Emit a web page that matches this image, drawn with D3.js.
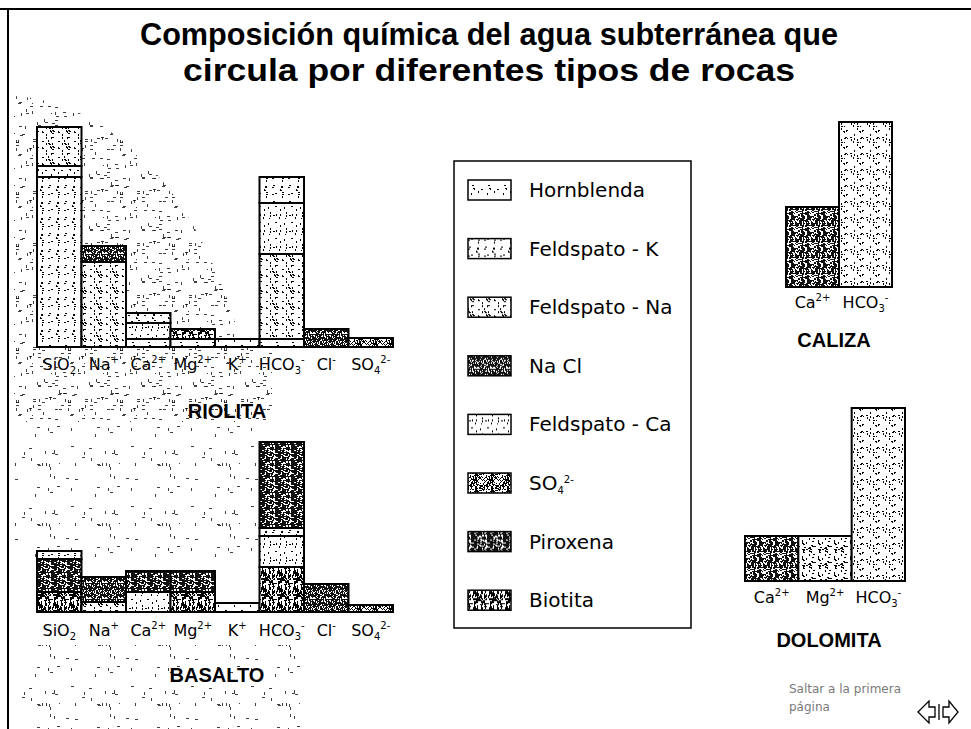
<!DOCTYPE html>
<html>
<head>
<meta charset="utf-8">
<title>Composición química del agua subterránea</title>
<script src="https://cdn.jsdelivr.net/npm/d3@7"></script>
<style>
  body { margin: 0; background: #fff; }
  .title { font: bold 31px "Liberation Sans Narrow", "Liberation Sans", Arial, sans-serif; text-anchor: middle; fill: #000; }
  .ion { font: 16px "DejaVu Sans", Verdana, sans-serif; fill: #000; }
  .rock { font: bold 20px "Liberation Sans", Arial, sans-serif; text-anchor: middle; fill: #000; }
  .legend text { font: 20px "DejaVu Sans", Verdana, sans-serif; fill: #000; }
  .foot { font: 12px "DejaVu Sans", sans-serif; fill: #7a7a7a; }
</style>
</head>
<body>
<svg id="chart" width="971" height="729"></svg>
<script>
//1. Data (values in relative units, stacked bottom to top)
var ions = ["SiO2", "Na+", "Ca2+", "Mg2+", "K+", "HCO3-", "Cl-", "SO42-"];
var ionText = {
  "SiO2": ["SiO", "2", ""], "Na+": ["Na", "", "+"], "Ca2+": ["Ca", "", "2+"],
  "Mg2+": ["Mg", "", "2+"], "K+": ["K", "", "+"], "HCO3-": ["HCO", "3", "-"],
  "Cl-": ["Cl", "", "-"], "SO42-": ["SO", "4", "2-"]
};
var minerals = ["Hornblenda", "Feldspato - K", "Feldspato - Na", "Na Cl",
                "Feldspato - Ca", "SO4", "Piroxena", "Biotita"];

var riolita = [
  ["SiO2", "Feldspato - K", 85], ["SiO2", "Hornblenda", 5.5], ["SiO2", "Feldspato - Na", 19.5],
  ["Na+", "Feldspato - Na", 42.5], ["Na+", "Na Cl", 8],
  ["Ca2+", "Hornblenda", 4], ["Ca2+", "Feldspato - Ca", 8], ["Ca2+", "Feldspato - K", 5],
  ["Mg2+", "Hornblenda", 4], ["Mg2+", "Biotita", 5],
  ["K+", "Feldspato - K", 4],
  ["HCO3-", "Hornblenda", 4], ["HCO3-", "Feldspato - Na", 42.5], ["HCO3-", "Feldspato - Ca", 25.5], ["HCO3-", "Feldspato - K", 13],
  ["Cl-", "Na Cl", 9],
  ["SO42-", "SO4", 4.5]
];
var basalto = [
  ["SiO2", "Biotita", 10], ["SiO2", "Piroxena", 16.5], ["SiO2", "Feldspato - K", 4],
  ["Na+", "Feldspato - Na", 5], ["Na+", "Na Cl", 12.5],
  ["Ca2+", "Feldspato - Ca", 10], ["Ca2+", "Piroxena", 10.5],
  ["Mg2+", "Biotita", 10], ["Mg2+", "Piroxena", 10.5],
  ["K+", "Feldspato - K", 4.5],
  ["HCO3-", "Biotita", 22.5], ["HCO3-", "Feldspato - Ca", 15.5], ["HCO3-", "Feldspato - K", 4], ["HCO3-", "Piroxena", 43],
  ["Cl-", "Na Cl", 14],
  ["SO42-", "SO4", 3.5]
];
var calizaIons = ["Ca2+", "HCO3-"];
var calizaValues = [40, 82.5];
var dolomitaIons = ["Ca2+", "Mg2+", "HCO3-"];
var dolomitaValues = [22.5, 22.5, 86.5];

//2. Layout
var svg = d3.select("#chart");
var y = d3.scaleLinear().domain([0, 100]).range([0, 200]);
var defs = svg.append("defs");

// deterministic speckle textures (scan look)
function hash(a, b, s) {
  var h = Math.imul(a + 7, 374761393) ^ Math.imul(b + 13, 668265263) ^ Math.imul(s + 3, 2246822519);
  h = Math.imul(h ^ (h >>> 13), 1274126177);
  h ^= h >>> 16;
  return (h >>> 0) / 4294967296;
}
function texture(id, o) {
  var n = o.size || 16;
  var p = defs.append("pattern").attr("id", id)
    .attr("patternUnits", "userSpaceOnUse").attr("width", n).attr("height", n);
  p.append("rect").attr("width", n).attr("height", n).attr("fill", o.bg);
  for (var i = 0; i < n; i++) {
    for (var j = 0; j < n; j++) {
      if (hash(i, j, o.seed) < o.density) {
        var vert = hash(j, i, o.seed + 1) < o.vert;
        p.append("rect").attr("x", i).attr("y", j)
          .attr("width", vert ? 1 : o.len).attr("height", vert ? o.len : 1)
          .attr("fill", o.fg).attr("opacity", o.op || 1);
      }
    }
  }
}
var texStyle = {
  "Hornblenda":     { bg: "#fff", fg: "#000", density: 0.035, len: 2, vert: 0.5, seed: 11 },
  "Feldspato - K":  { bg: "#fff", fg: "#000", density: 0.045, len: 2, vert: 0.2, seed: 23 },
  "Feldspato - Na": { bg: "#fff", fg: "#000", density: 0.07, len: 2, vert: 0.5, seed: 37 },
  "Na Cl":          { bg: "#111", fg: "#fff", density: 0.30, len: 1, vert: 0.5, seed: 41 },
  "Feldspato - Ca": { bg: "#fff", fg: "#000", density: 0.05, len: 2, vert: 0.8, seed: 53 },
  "SO4":            { bg: "#fff", fg: "#000", density: 0.50, len: 1, vert: 0.5, seed: 67 },
  "Piroxena":       { bg: "#111", fg: "#fff", density: 0.22, len: 2, vert: 0.3, seed: 71 },
  "Biotita":        { bg: "#fff", fg: "#000", density: 0.24, len: 3, vert: 0.9, seed: 89 }
};
var texId = {};
minerals.forEach(function (m, i) { texId[m] = "tex" + i; texture("tex" + i, texStyle[m]); });
texture("carbDark", { bg: "#111", fg: "#fff", density: 0.26, len: 2, vert: 0.5, seed: 101 });
texture("carbMid", { bg: "#fff", fg: "#000", density: 0.11, len: 2, vert: 0.4, seed: 103 });
texture("carbLight", { bg: "#fff", fg: "#000", density: 0.06, len: 2, vert: 0.5, seed: 107 });
var carbFill = { "Ca2+": "carbDark", "Mg2+": "carbMid", "HCO3-": "carbLight" };
texture("stip", { size: 52, bg: "none", fg: "#000", density: 0.022, len: 3, vert: 0.4, seed: 131, op: 0.75 });
texture("stipLow", { size: 60, bg: "none", fg: "#000", density: 0.009, len: 3, vert: 0.6, seed: 137, op: 0.75 });

//3. Frame, background speckle and title
svg.append("line").attr("x1", 0).attr("x2", 971).attr("y1", 9).attr("y2", 9)
  .attr("stroke", "#000").attr("stroke-width", 2);
svg.append("line").attr("x1", 8).attr("x2", 8).attr("y1", 9).attr("y2", 729)
  .attr("stroke", "#000").attr("stroke-width", 2);
svg.append("path").attr("fill", "url(#stip)")
  .attr("d", "M14,96 Q80,100 135,152 Q205,215 242,345 L272,352 L272,422 L14,422 Z");
svg.append("path").attr("fill", "url(#stipLow)")
  .attr("d", "M14,422 L272,422 L262,560 L14,560 Z M20,645 L300,645 L300,729 L20,729 Z");

svg.append("text").attr("class", "title").attr("x", 489).attr("y", 45)
  .attr("textLength", 698).attr("lengthAdjust", "spacingAndGlyphs")
  .text("Composición química del agua subterránea que");
svg.append("text").attr("class", "title").attr("x", 489).attr("y", 81)
  .attr("textLength", 612).attr("lengthAdjust", "spacingAndGlyphs")
  .text("circula por diferentes tipos de rocas");

//4. Helpers
function chemLabel(sel, ion) {
  var t = ionText[ion];
  sel.text(null);
  sel.append("tspan").text(t[0]);
  if (t[1]) sel.append("tspan").attr("font-size", 10).attr("dy", 4).text(t[1]);
  if (t[2]) sel.append("tspan").attr("font-size", 10)
    .attr("dy", t[1] ? -11 : -7).text(t[2]);
}
function stackSegs(segs) {
  var acc = {};
  return segs.map(function (s) {
    var y0 = acc[s[0]] || 0;
    acc[s[0]] = y0 + s[2];
    return { ion: s[0], fill: s[1], y0: y0, y1: y0 + s[2] };
  });
}
function drawChart(o) {
  var x = d3.scaleBand().domain(o.ions).range(o.range).padding(0);
  var g = svg.append("g").attr("transform", "translate(0," + o.base + ")");
  g.selectAll("rect.seg").data(o.segs).join("rect").attr("class", "seg")
    .attr("x", function (d) { return x(d.ion); })
    .attr("y", function (d) { return -y(d.y1); })
    .attr("width", x.bandwidth())
    .attr("height", function (d) { return y(d.y1) - y(d.y0); })
    .attr("fill", function (d) { return "url(#" + d.fill + ")"; })
    .attr("stroke", "#000").attr("stroke-width", 2);
  var ax = g.append("g").call(d3.axisBottom(x).tickSize(0).tickPadding(0));
  ax.select(".domain").remove();
  ax.selectAll(".tick text").attr("class", "ion").attr("y", o.labelOff).attr("dy", 0)
    .each(function (d) { chemLabel(d3.select(this), d); });
  svg.append("text").attr("class", "rock").attr("x", o.nameX).attr("y", o.nameY).text(o.name);
}

//5. Charts
drawChart({
  ions: ions, range: [37, 393], base: 347, labelOff: 23,
  segs: stackSegs(riolita).map(function (d) { d.fill = texId[d.fill]; return d; }),
  name: "RIOLITA", nameX: 227, nameY: 418
});
drawChart({
  ions: ions, range: [37, 393], base: 612, labelOff: 24,
  segs: stackSegs(basalto).map(function (d) { d.fill = texId[d.fill]; return d; }),
  name: "BASALTO", nameX: 217, nameY: 682
});
drawChart({
  ions: calizaIons, range: [786, 892], base: 287, labelOff: 21,
  segs: stackSegs(calizaIons.map(function (c, i) { return [c, carbFill[c], calizaValues[i]]; })),
  name: "CALIZA", nameX: 834, nameY: 347
});
drawChart({
  ions: dolomitaIons, range: [745, 905], base: 581, labelOff: 22,
  segs: stackSegs(dolomitaIons.map(function (c, i) { return [c, carbFill[c], dolomitaValues[i]]; })),
  name: "DOLOMITA", nameX: 829, nameY: 647
});

//6. Legend
var legend = svg.append("g").attr("class", "legend");
legend.append("rect").attr("x", 454).attr("y", 161).attr("width", 237).attr("height", 467)
  .attr("fill", "none").attr("stroke", "#000").attr("stroke-width", 1.5);
var item = legend.selectAll("g.item").data(minerals).join("g").attr("class", "item")
  .attr("transform", function (d, i) { return "translate(468," + (190 + i * 58.6) + ")"; });
item.append("rect").attr("x", 0).attr("y", -10).attr("width", 43).attr("height", 20)
  .attr("fill", function (d) { return "url(#" + texId[d] + ")"; })
  .attr("stroke", "#000").attr("stroke-width", 1.5);
item.append("text").attr("x", 61).attr("y", 7).each(function (d) {
  var t = d3.select(this);
  if (d === "SO4") chemLabel(t, "SO42-"); else t.text(d);
});

//7. Footer
svg.append("text").attr("class", "foot").attr("x", 789).attr("y", 693).text("Saltar a la primera");
svg.append("text").attr("class", "foot").attr("x", 789).attr("y", 711).text("página");
var nav = svg.append("g").attr("fill", "#fff").attr("stroke", "#000").attr("stroke-width", 1.3);
nav.append("path").attr("d", "M918,712 L929,701 L929,707 L935,707 L935,717 L929,717 L929,723 Z");
nav.append("path").attr("d", "M939,704 L939,720");
nav.append("path").attr("d", "M943,707 L949,707 L949,701 L958,712 L949,723 L949,717 L943,717 Z");
</script>
</body>
</html>
